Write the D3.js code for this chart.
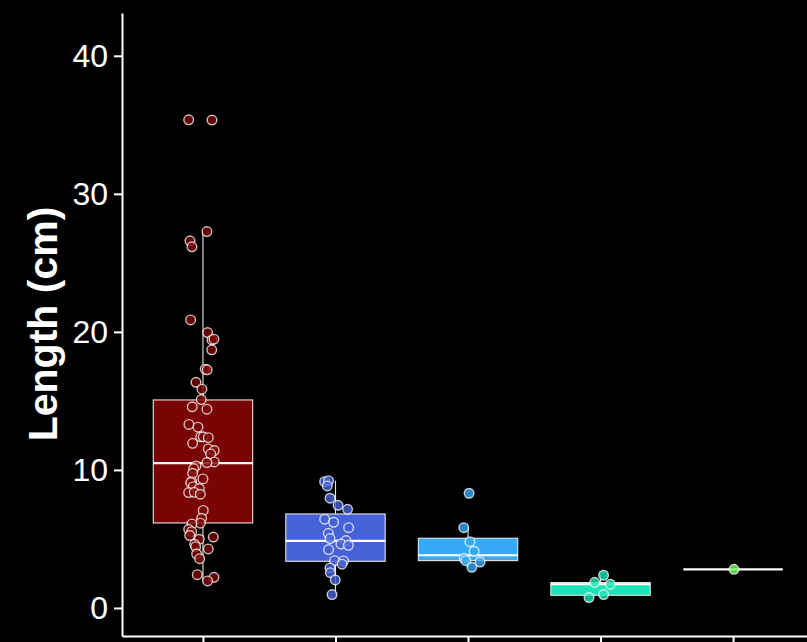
<!DOCTYPE html>
<html>
<head>
<meta charset="utf-8">
<script src="https://cdn.jsdelivr.net/npm/d3@7"></script>
<style>
  body { margin: 0; background: #000; }
</style>
</head>
<body>
<div id="viz_div"></div>
<script>
// groups on the x axis (labels fall below the visible frame)
var groups = [1, 2, 3, 4, 5];
var colours = ['#7A0403', '#4662D7', '#36AAF9', '#1AE4B6', '#72FE5E'];

// box stats, one per group
var q1  = [6.16, 3.38, 3.43, 0.92, 2.8];
var med = [10.5, 4.86, 3.82, 1.72, 2.8];
var q3  = [15.07, 6.81, 5.05, 1.84, 2.8];
var wlo = [1.96, 0.97, 2.95, 0.75, 2.8];
var whi = [27.27, 9.22, 5.82, 2.37, 2.8];

// individual lengths (cm) and their jitter (in x-axis units)
var len_g1 = [35.36, 35.34, 27.27, 26.6, 26.16, 20.87, 19.95, 19.42, 19.47, 18.7,
              17.3, 17.25, 16.35, 15.85, 15.1, 14.57, 14.4, 13.3, 13.1, 12.4,
              12.4, 12.34, 11.93, 11.52, 11.4, 11.16, 10.58, 10.53, 10.29, 10.1,
              9.76, 9.35, 9.15, 9.08, 8.79, 8.65, 8.36, 8.38, 8.24, 7.07,
              6.5, 6.14, 6.09, 5.7, 5.53, 5.25, 5.14, 4.98, 4.61, 4.44,
              4.28, 3.91, 3.57, 2.41, 2.22, 1.96];
var jit_g1 = [-0.108, 0.068, 0.030, -0.098, -0.083, -0.093, 0.035, 0.068, 0.083, 0.066,
              0.017, 0.032, -0.053, -0.008, -0.013, -0.081, 0.030, -0.106, -0.038, -0.017,
              0.002, 0.040, -0.078, 0.040, 0.085, 0.058, 0.085, 0.030, -0.053, -0.070,
              -0.078, 0.000, -0.085, -0.093, -0.073, -0.028, -0.108, -0.066, -0.020, 0.002,
              -0.010, -0.020, -0.083, -0.108, -0.085, -0.100, 0.078, -0.028, -0.063, -0.055,
              0.040, -0.048, -0.025, -0.043, 0.083, 0.035];
var len_g2 = [9.15, 9.22, 8.84, 7.95, 7.44, 7.15, 6.43, 6.21, 5.82, 5.41, 5.03,
              4.88, 4.64, 4.54, 4.23, 3.43, 3.41, 3.17, 2.9, 2.56, 2.03, 0.97];
var jit_g2 = [-0.082, -0.052, -0.062, -0.041, 0.019, 0.091, -0.082, -0.014, 0.099, -0.054, -0.041,
              0.079, 0.041, 0.097, -0.052, -0.007, 0.061, 0.049, -0.041, -0.039, -0.002, -0.026];
var len_g3 = [8.31, 5.82, 4.80, 4.11, 3.6, 3.43, 3.33, 2.95];
var jit_g3 = [0.008, -0.032, 0.014, 0.046, -0.029, -0.017, 0.091, 0.029];
var len_g4 = [2.37, 1.86, 1.72, 0.97, 0.75];
var jit_g4 = [0.023, -0.044, 0.074, 0.023, -0.087];
var len_g5 = [2.8];
var jit_g5 = [0.007];

var y_ticks = [0, 10, 20, 30, 40];
var y_title = 'Length (cm)';

var w = 807,
    h = 642;
var box_w = 0.75;

var x = d3.scaleLinear().domain([0.389, 5.558]).range([122, 807]);
var y = d3.scaleLinear().domain([-2.03, 43.1]).range([636, 13]);

var lens = [len_g1, len_g2, len_g3, len_g4, len_g5],
    jits = [jit_g1, jit_g2, jit_g3, jit_g4, jit_g5];

var points = [];
groups.forEach(function(g, i) {
	lens[i].forEach(function(v, j) {
		points.push({ grp: i, val: v, jit: jits[i][j] });
	});
});

var svg = d3.select('#viz_div')
			.append('svg')
			.attr('width', w)
			.attr('height', h)
			.style('background', '#000')
			.style('display', 'block');

var boxes = svg.selectAll('g.box')
	.data(groups)
	.enter()
	.append('g')
	.attr('class', 'box');

// whiskers
boxes.append('line')
	.attr('x1', function(d) { return x(d); })
	.attr('x2', function(d) { return x(d); })
	.attr('y1', function(d, i) { return y(whi[i]); })
	.attr('y2', function(d, i) { return y(wlo[i]); })
	.attr('stroke', '#e6e6e6')
	.attr('stroke-width', 1.1);

boxes.append('rect')
	.attr('x', function(d) { return x(d - box_w / 2); })
	.attr('width', function(d) { return x(d + box_w / 2) - x(d - box_w / 2); })
	.attr('y', function(d, i) { return y(q3[i]); })
	.attr('height', function(d, i) { return y(q1[i]) - y(q3[i]); })
	.attr('fill', function(d, i) { return colours[i]; })
	.attr('stroke', '#e6e6e6')
	.attr('stroke-width', 1.1);

boxes.append('line')
	.attr('x1', function(d) { return x(d - box_w / 2); })
	.attr('x2', function(d) { return x(d + box_w / 2); })
	.attr('y1', function(d, i) { return y(med[i]); })
	.attr('y2', function(d, i) { return y(med[i]); })
	.attr('stroke', '#fff')
	.attr('stroke-width', 2.2);

svg.selectAll('circle.pt')
	.data(points)
	.enter()
	.append('circle')
	.attr('class', 'pt')
	.attr('cx', function(d) { return x(groups[d.grp] + d.jit); })
	.attr('cy', function(d) { return y(d.val); })
	.attr('r', 4.8)
	.attr('fill', function(d) { return colours[d.grp]; })
	.attr('fill-opacity', 0.8)
	.attr('stroke', '#fff')
	.attr('stroke-opacity', 0.75)
	.attr('stroke-width', 1.4);

// axes
var y_axis = svg.append('g')
	.attr('transform', 'translate(122,0)')
	.call(d3.axisLeft(y).tickValues(y_ticks).tickSize(8).tickSizeOuter(0).tickPadding(6));

var x_axis = svg.append('g')
	.attr('transform', 'translate(0,636)')
	.call(d3.axisBottom(x).tickValues(groups).tickFormat('').tickSize(8).tickSizeOuter(0));

[y_axis, x_axis].forEach(function(a) {
	a.select('.domain').attr('stroke', '#fff').attr('stroke-width', 2);
	a.selectAll('.tick line').attr('stroke', '#fff').attr('stroke-width', 2);
	a.selectAll('.tick text')
		.attr('fill', '#fff')
		.style('font-family', '"Liberation Sans", Arial, sans-serif')
		.style('font-size', '32px');
});

svg.append('text')
	.attr('transform', 'translate(57,324) rotate(-90)')
	.attr('text-anchor', 'middle')
	.attr('fill', '#fff')
	.style('font-family', '"Liberation Sans", Arial, sans-serif')
	.style('font-size', '41px')
	.style('font-weight', 'bold')
	.text(y_title);
</script>
</body>
</html>
